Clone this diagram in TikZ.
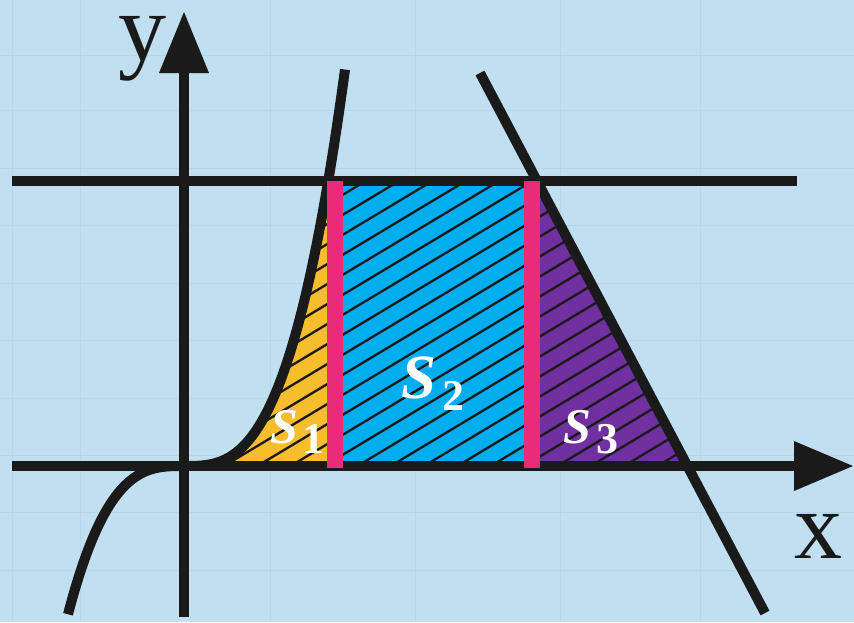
\documentclass[tikz,border=0pt]{standalone}
\usepackage{fontspec}
\setmainfont{Liberation Serif}
\definecolor{bgblue}{HTML}{C0DFF1}
\definecolor{gridblue}{HTML}{B6D6EB}
\definecolor{ink}{HTML}{1A1A1A}
\definecolor{sunyellow}{HTML}{F6BE2C}
\definecolor{skycyan}{HTML}{00AEEF}
\definecolor{grape}{HTML}{7030A0}
\definecolor{rose}{HTML}{EC2A7A}
\begin{document}
\begin{tikzpicture}[x=1pt,y=-1pt,
  thick line/.style={line width=10pt, draw=ink},
  hatchline/.style={line width=2.3pt, draw=ink},
  bar/.style={line width=16pt, draw=rose},
  axislabel/.style={inner sep=0pt, text=ink, font=\fontsize{96}{96}\selectfont, anchor=base},
  bigS/.style={inner sep=0pt, text=white, anchor=base west},
  subnum/.style={inner sep=0pt, text=white, anchor=base west, font=\fontsize{44}{44}\selectfont\bfseries}]
\useasboundingbox (0,0) rectangle (854,622);
\fill[bgblue] (0,0) rectangle (854,622);
% faint grid
\foreach \gy in {55,110,168,225,283,340,398,455,512,570}
  \draw[gridblue, line width=1pt] (0,\gy) -- (854,\gy);
\foreach \gx in {12,80,270,415,560,700}
  \draw[gridblue, line width=1pt] (\gx,0) -- (\gx,622);
% key points
\coordinate (O) at (184,466);
\coordinate (ytip) at (184,12);
\coordinate (ybase) at (184,73);
\coordinate (ybot) at (184,617);
\coordinate (xtip) at (853,466);
\coordinate (xbase) at (794,466);
\coordinate (xleft) at (12,466);
\coordinate (hleft) at (12,181);
\coordinate (hright) at (797,181);
\coordinate (ltop) at (480,73);
\coordinate (lbot) at (765,613);
\coordinate (b1top) at (335,181);
\coordinate (b1bot) at (335,468);
\coordinate (b2top) at (532,181);
\coordinate (b2bot) at (532,468);
\coordinate (lhigh) at (537,181);
\coordinate (llow) at (687.4,466);
% fills
\fill[sunyellow] plot[domain=0:144.2, samples=60] ({184+\x},{466-95*(\x/100)*(\x/100)*(\x/100)}) -- (b1top) -- (335,466) -- cycle;
\fill[skycyan] (b1top) rectangle (532,466);
\fill[grape] (b2top) -- (lhigh) -- (llow) -- (532,466) -- cycle;
% hatching
\begin{scope}
  \clip plot[domain=0:144.2, samples=60] ({184+\x},{466-95*(\x/100)*(\x/100)*(\x/100)}) -- (lhigh) -- (llow) -- cycle;
  \foreach \b in {170,190,...,800}
    \draw[hatchline] (184,\b) -- (700,\b-309.6);
\end{scope}
% lines
\draw[thick line] (hleft) -- (hright);
\draw[thick line] (xleft) -- (xbase);
\draw[thick line] (ybot) -- (ybase);
\fill[ink] (ytip) -- (159,73) -- (209,73) -- cycle;
\fill[ink] (xtip) -- (794,441) -- (794,491) -- cycle;
\draw[thick line] plot[domain=-116:161, samples=150] ({184+\x},{466-95*(\x/100)*(\x/100)*(\x/100)});
\draw[thick line] (ltop) -- (lbot);
% bars
\draw[bar] (b1top) -- (b1bot);
\draw[bar] (b2top) -- (b2bot);
% labels
\node[axislabel] (ylab) at (142,60) {y};
\node[axislabel] (xlab) at (818,558) {x};
\node[bigS, font=\fontsize{50}{50}\selectfont\bfseries\itshape] (s1) at (270,443) {S};
\node[subnum] (s1n) at (302,453) {1};
\node[bigS, font=\fontsize{63}{63}\selectfont\bfseries\itshape] (s2) at (401,398) {S};
\node[subnum] (s2n) at (442,410) {2};
\node[bigS, font=\fontsize{50}{50}\selectfont\bfseries\itshape] (s3) at (563,443) {S};
\node[subnum] (s3n) at (596,453) {3};
\end{tikzpicture}
\end{document}
